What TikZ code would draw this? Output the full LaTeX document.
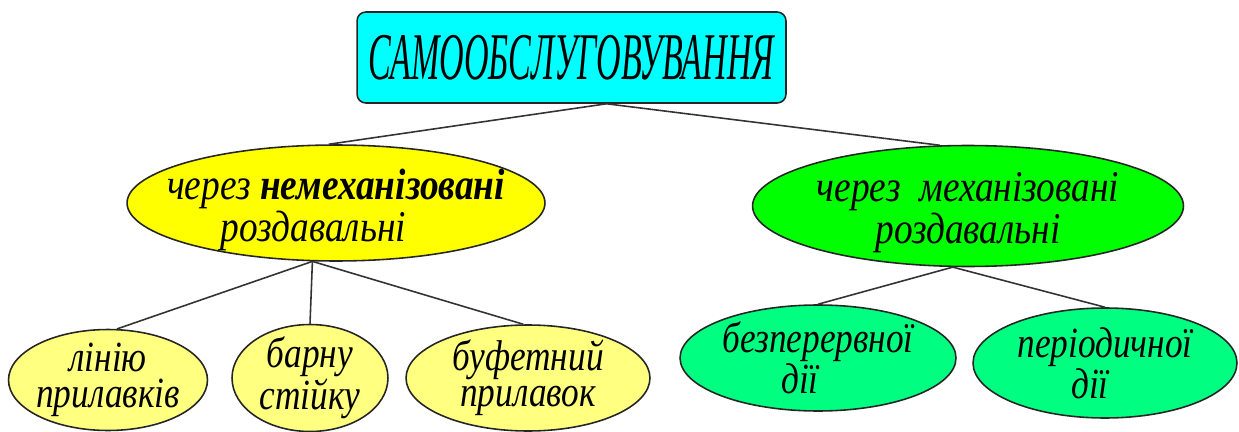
\documentclass[tikz,border=0pt]{standalone}
\usepackage{fontspec}
\setmainfont{Liberation Serif}
\newfontfamily\topfont[FakeStretch=0.51]{Liberation Serif}
\newfontfamily\midfont[FakeStretch=0.85]{Liberation Serif}
\newfontfamily\lowfont[FakeStretch=0.82]{Liberation Serif}
\usetikzlibrary{shapes}
\definecolor{aqua}{RGB}{0,255,255}
\definecolor{lemon}{RGB}{255,255,0}
\definecolor{lime}{RGB}{0,255,0}
\definecolor{pale}{RGB}{255,255,128}
\definecolor{mint}{RGB}{0,255,128}

\begin{document}
\begin{tikzpicture}[x=0.02cm,y=-0.02cm]
\tikzstyle{oval} = [ellipse,draw=black!85,line width=0.9pt,inner sep=0pt]
\tikzstyle{link} = [draw=black!80,line width=0.9pt]
\tikzstyle{midtxt} = [font=\midfont\itshape\fontsize{25}{24}\selectfont,align=center,inner sep=0pt,yshift=-0.14cm]
\tikzstyle{lowtxt} = [font=\lowfont\itshape\fontsize{24.5}{20.5}\selectfont,align=center,inner sep=0pt]
\useasboundingbox (0,0) rectangle (1239,432);
\node[draw=black!85,line width=0.9pt,rounded corners=5pt,fill=aqua,
      minimum width=8.58cm,minimum height=1.82cm,
      font=\topfont\itshape\fontsize{38}{38}\selectfont] (top) at (571.5,57.5) {САМООБСЛУГОВУВАННЯ};
\node[oval,fill=lemon,minimum width=8.36cm,minimum height=2.32cm,
      label={[midtxt]center:через {\bfseries немеханізовані}\\роздавальні\hspace*{0.9cm}}] (nm) at (336,203) {};
\node[oval,fill=lime,minimum width=8.62cm,minimum height=2.42cm,
      label={[midtxt]center:через~~механізовані\\роздавальні}] (mh) at (968,206) {};
\node[oval,fill=pale,minimum width=3.98cm,minimum height=2.02cm,
      label={[lowtxt]center:лінію\\прилавків}] (ln) at (108,380) {};
\node[oval,fill=pale,minimum width=3.12cm,minimum height=2.14cm,
      label={[lowtxt]center:барну\\стійку}] (br) at (310,378) {};
\node[oval,fill=pale,minimum width=4.88cm,minimum height=2.12cm,
      label={[lowtxt]center:буфетний\\прилавок}] (bf) at (528,378) {};
\node[oval,fill=mint,minimum width=5.52cm,minimum height=2.12cm,
      label={[lowtxt]center:безперервної\\дії\hspace*{0.72cm}}] (bz) at (818,358) {};
\node[oval,fill=mint,minimum width=5.28cm,minimum height=2.2cm,
      label={[lowtxt]center:періодичної\\дії\hspace*{0.6cm}}] (pr) at (1105,363) {};
\coordinate (apex) at ([xshift=0.7cm]top.south);
\draw[link] (apex) -- (nm.97);
\draw[link] (apex) -- (mh.115);
\draw[link] (nm.248) -- (ln.80);
\draw[link] (nm.248) -- (br.north);
\draw[link] (nm.248) -- (bf.95);
\draw[link] (mh.256) -- (bz.north);
\draw[link] (mh.256) -- (pr.north);
\end{tikzpicture}
\end{document}
